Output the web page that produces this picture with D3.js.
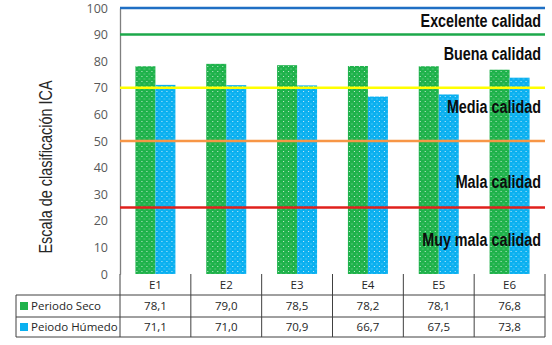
<!DOCTYPE html>
<html>
<head>
<meta charset="utf-8">
<script src="https://cdn.jsdelivr.net/npm/d3@7"></script>
<style>
  body { margin: 0; background: #fff; }
  svg { display: block; }
</style>
</head>
<body>
<div id="chart"></div>
<script>
// data
const stations = ["E1", "E2", "E3", "E4", "E5", "E6"];
const seco = [78.1, 79.0, 78.5, 78.2, 78.1, 76.8];
const humedo = [71.1, 71.0, 70.9, 66.7, 67.5, 73.8];
const seriesNames = ["Periodo Seco", "Peiodo Húmedo"];
const yTicks = [0, 10, 20, 30, 40, 50, 60, 70, 80, 90, 100];
const limits = [100, 90, 70, 50, 25];
const limitColors = ["#1f6fc4", "#1ca84a", "#ffff00", "#f79646", "#e0201c"];
const zoneLabels = ["Excelente calidad", "Buena calidad", "Media calidad", "Mala calidad", "Muy mala calidad"];
const zoneMid = [95, 82.7, 62.8, 34.6, 12.8];

const W = 552, H = 345;
const plot = {left: 120, right: 545, top: 8, bottom: 274};
const rowH = [21, 22, 20];

const svg = d3.select("#chart").append("svg")
    .attr("width", W)
    .attr("height", H);

// dotted fills
const defs = svg.append("defs");
function dotPattern(id, color) {
    const p = defs.append("pattern")
        .attr("id", id)
        .attr("patternUnits", "userSpaceOnUse")
        .attr("width", 5).attr("height", 5);
    p.append("rect").attr("width", 5).attr("height", 5).attr("fill", color);
    p.append("rect").attr("x", 1).attr("y", 1).attr("width", 1).attr("height", 1).attr("fill", "#ffffff").attr("opacity", 0.75);
    p.append("rect").attr("x", 3.5).attr("y", 3.5).attr("width", 1).attr("height", 1).attr("fill", "#ffffff").attr("opacity", 0.5);
}
dotPattern("dotGreen", "#1fb24b");
dotPattern("dotBlue", "#0ab0f0");

const x = d3.scaleBand().domain(stations).range([plot.left, plot.right]);
const y = d3.scaleLinear().domain([0, 100]).range([plot.bottom, plot.top]);
const inner = d3.scaleBand().domain([0, 1]).range([0, 40]);
const barOffset = (x.bandwidth() - 40) / 2;

// y axis
const yAxis = d3.axisLeft(y).tickValues(yTicks).tickSize(0).tickPadding(12);
const gy = svg.append("g").attr("transform", `translate(${plot.left},0)`).call(yAxis);
gy.select(".domain").attr("stroke", "#7f7f7f").attr("stroke-width", 1.3);
gy.selectAll("text")
    .attr("font-family", "'Open Sans', 'Liberation Sans', sans-serif")
    .attr("font-size", 12.5)
    .attr("fill", "#595959");

// axis title, condensed to look like a narrow face
svg.append("text")
    .attr("transform", `translate(52,${(plot.top + plot.bottom) / 2 + 26}) rotate(-90) scale(0.78,1)`)
    .attr("text-anchor", "middle")
    .attr("font-family", "'Liberation Sans', sans-serif")
    .attr("font-size", 18.5)
    .attr("fill", "#262626")
    .text("Escala de clasificación ICA");

// bars
const groups = svg.selectAll(".grp")
    .data(stations)
    .enter().append("g")
    .attr("class", "grp")
    .attr("transform", d => `translate(${x(d) + barOffset},0)`);

groups.append("rect")
    .attr("x", inner(0))
    .attr("width", inner.bandwidth())
    .attr("y", (d, i) => y(seco[i]))
    .attr("height", (d, i) => y(0) - y(seco[i]))
    .attr("fill", "url(#dotGreen)");

groups.append("rect")
    .attr("x", inner(1))
    .attr("width", inner.bandwidth())
    .attr("y", (d, i) => y(humedo[i]))
    .attr("height", (d, i) => y(0) - y(humedo[i]))
    .attr("fill", "url(#dotBlue)");

// quality thresholds
svg.selectAll(".limit")
    .data(limits)
    .enter().append("line")
    .attr("x1", plot.left).attr("x2", plot.right)
    .attr("y1", d => y(d)).attr("y2", d => y(d))
    .attr("stroke", (d, i) => limitColors[i])
    .attr("stroke-width", 2.5);

svg.selectAll(".zone")
    .data(zoneLabels)
    .enter().append("text")
    .attr("transform", (d, i) => `translate(541,${y(zoneMid[i])}) scale(0.82,1)`)
    .attr("dy", "0.35em")
    .attr("text-anchor", "end")
    .attr("font-family", "'Liberation Sans', sans-serif")
    .attr("font-weight", "bold")
    .attr("font-size", 17.5)
    .attr("fill", "#0d0d0d")
    .text(d => d);

// data table
const tbl = svg.append("g")
    .attr("font-family", "'Open Sans', 'Liberation Sans', sans-serif")
    .attr("font-size", 11.5)
    .attr("fill", "#262626");
const rowsY = [plot.bottom, plot.bottom + rowH[0], plot.bottom + rowH[0] + rowH[1], plot.bottom + rowH[0] + rowH[1] + rowH[2]];
const border = "#404040";

// horizontal rules
[1, 2, 3].forEach(r => {
    tbl.append("line").attr("x1", 16).attr("x2", plot.right)
        .attr("y1", rowsY[r]).attr("y2", rowsY[r]).attr("stroke", border);
});
// vertical rules
tbl.append("line").attr("x1", 16).attr("x2", 16).attr("y1", rowsY[1]).attr("y2", rowsY[3]).attr("stroke", border);
tbl.append("line").attr("x1", plot.left).attr("x2", plot.left).attr("y1", rowsY[0]).attr("y2", rowsY[3]).attr("stroke", border);
tbl.selectAll(".vr")
    .data(stations)
    .enter().append("line")
    .attr("x1", d => x(d) + x.bandwidth()).attr("x2", d => x(d) + x.bandwidth())
    .attr("y1", rowsY[0]).attr("y2", rowsY[3])
    .attr("stroke", border);

tbl.selectAll(".cat")
    .data(stations)
    .enter().append("text")
    .attr("x", d => x(d) + x.bandwidth() / 2)
    .attr("y", (rowsY[0] + rowsY[1]) / 2)
    .attr("dy", "0.35em")
    .attr("text-anchor", "middle")
    .text(d => d);

const fmt = v => d3.format(".1f")(v).replace(".", ",");
[seco, humedo].forEach((vals, r) => {
    tbl.selectAll(".v" + r)
        .data(vals)
        .enter().append("text")
        .attr("x", (d, i) => x(stations[i]) + x.bandwidth() / 2)
        .attr("y", (rowsY[r + 1] + rowsY[r + 2]) / 2)
        .attr("dy", "0.35em")
        .attr("text-anchor", "middle")
        .text(d => fmt(d));

    tbl.append("rect")
        .attr("x", 20).attr("y", (rowsY[r + 1] + rowsY[r + 2]) / 2 - 4)
        .attr("width", 8).attr("height", 8)
        .attr("fill", r === 0 ? "#1fb24b" : "#0ab0f0");
    tbl.append("text")
        .attr("x", 31)
        .attr("y", (rowsY[r + 1] + rowsY[r + 2]) / 2)
        .attr("dy", "0.35em")
        .text(seriesNames[r]);
});
</script>
</body>
</html>
